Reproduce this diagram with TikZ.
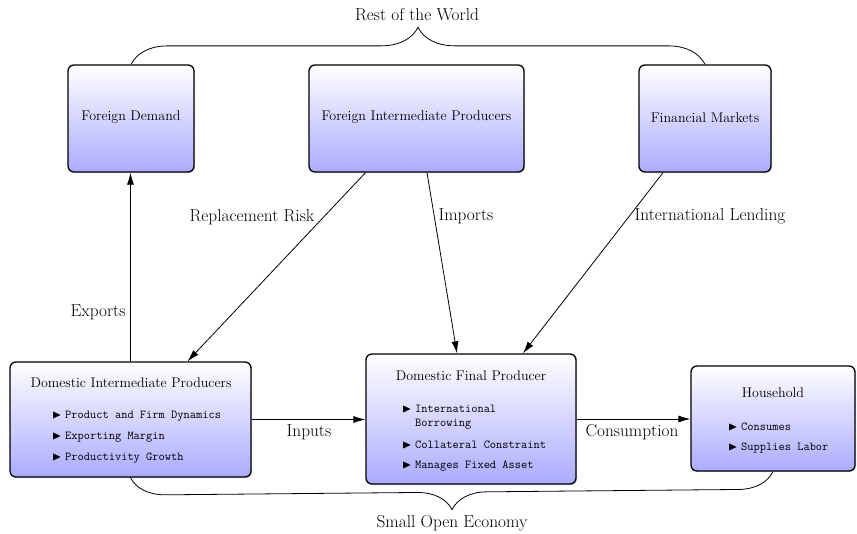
\documentclass[tikz,border=0pt]{standalone}
\usepackage{amssymb}
\usepackage{fontspec}
\usetikzlibrary{arrows.meta,calc,shadows,decorations.pathreplacing}
\tikzset{
  box/.style={draw=black, line width=1.3pt, rounded corners=6pt, inner sep=0pt,
    top color=white, bottom color=blue!33!white,
    drop shadow={opacity=0.35, shadow xshift=1pt, shadow yshift=-1pt}},
  ttl/.style={font=\fontsize{14}{16}\selectfont},
  itm/.style={anchor=west, inner sep=0pt, font=\fontsize{12.1}{14}\selectfont\ttfamily},
  lbl/.style={font=\fontsize{17.3}{20}\selectfont, inner sep=1pt},
  arr/.style={-{Latex[length=12pt,width=7pt]}, line width=0.8pt},
  brc/.style={decorate, line width=0.8pt, decoration={brace, amplitude=37pt}}
}
\newcommand{\bul}{\makebox[13pt][l]{$\blacktriangleright$}}
\begin{document}
\begin{tikzpicture}[x=1pt,y=-1pt]
\useasboundingbox (0,0) rectangle (857,533);
% top boxes
\node[box, minimum width=126pt, minimum height=107pt] (FD) at (131,118.5) {};
\node[box, minimum width=215pt, minimum height=107pt] (FIP) at (416.5,118.5) {};
\node[box, minimum width=132pt, minimum height=107pt] (FM) at (705,118.5) {};
\node[ttl] (tFD) at (131,117) {Foreign Demand};
\node[ttl] (tFIP) at (416.5,117) {Foreign Intermediate Producers};
\node[ttl] (tFM) at (705,118) {Financial Markets};
% bottom boxes
\node[box, minimum width=241pt, minimum height=115pt] (DIP) at (130.5,419.5) {};
\node[box, minimum width=210pt, minimum height=130pt] (DFP) at (471,419) {};
\node[box, minimum width=164pt, minimum height=105pt] (HH) at (773,418.5) {};
\node[ttl] (tDIP) at (131,383) {Domestic Intermediate Producers};
\node[itm] (d1) at (52,416) {\bul Product and Firm Dynamics};
\node[itm] (d2) at (52,437) {\bul Exporting Margin};
\node[itm] (d3) at (52,458) {\bul Productivity Growth};
\node[ttl] (tDFP) at (471,376) {Domestic Final Producer};
\node[itm] (f1) at (402,409) {\bul International};
\node[itm] (f1b) at (415,424) {Borrowing};
\node[itm] (f2) at (402,445) {\bul Collateral Constraint};
\node[itm] (f3) at (402,466) {\bul Manages Fixed Asset};
\node[ttl] (tHH) at (773,393) {Household};
\node[itm] (h1) at (728,427) {\bul Consumes};
\node[itm] (h2) at (728,448) {\bul Supplies Labor};
% arrows
\draw[arr] (DIP.north) -- (DIP.north |- FD.south);
\draw[arr] ($(FIP.south)+(-51,0)$) -- ($(DIP.north)+(57,0)$);
\draw[arr] ($(FIP.south)+(10.5,0)$) -- ($(DFP.north)+(-14,0)$);
\draw[arr] ($(FM.south)+(-42,0)$) -- ($(DFP.north)+(52,0)$);
\draw[arr] (DIP.east) -- (DIP.east -| DFP.west);
\draw[arr] (DFP.east) -- (DFP.east -| HH.west);
% labels
\node[lbl] (lRR) at (252,217) {Replacement Risk};
\node[lbl] (lIm) at (466,216) {Imports};
\node[lbl] (lIL) at (710,216) {International Lending};
\node[lbl] (lEx) at (98,312) {Exports};
\node[lbl] (lIn) at (309,432) {Inputs};
\node[lbl] (lCo) at (632,432) {Consumption};
% braces
\draw[brc] (FD.north) -- (FM.north);
\draw[brc, decoration={brace, amplitude=35pt, mirror}] (DIP.south) -- (HH.south);
\node[lbl] (lRW) at (417,15) {Rest of the World};
\node[lbl] (lSO) at (452,523) {Small Open Economy};
\end{tikzpicture}
\end{document}
